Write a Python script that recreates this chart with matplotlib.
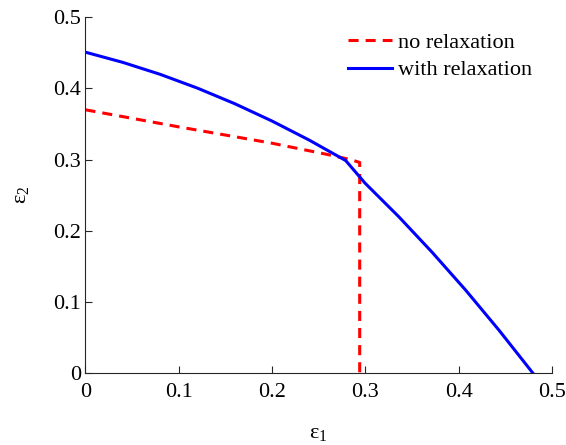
import matplotlib
matplotlib.use('Agg')
import matplotlib.pyplot as plt

# data
no_relax_x = [0.0, 0.1, 0.2, 0.26, 0.284, 0.294, 0.294]
no_relax_y = [0.370, 0.346, 0.323, 0.307, 0.300, 0.296, 0.0]
relax_x = [0.0, 0.04, 0.08, 0.12, 0.16, 0.2, 0.24, 0.279, 0.2997, 0.3357, 0.3716, 0.4076, 0.4435, 0.4795]
relax_y = [0.451, 0.4367, 0.4199, 0.4005, 0.3786, 0.3542, 0.3273, 0.2986, 0.2669, 0.2199, 0.1697, 0.1164, 0.0598, 0.0]
xticks = [0, 0.1, 0.2, 0.3, 0.4, 0.5]
yticks = [0, 0.1, 0.2, 0.3, 0.4, 0.5]
tick_labels = ['0', '0.1', '0.2', '0.3', '0.4', '0.5']

plt.rcParams['font.family'] = ['Liberation Serif', 'DejaVu Serif']
plt.rcParams['mathtext.default'] = 'regular'
plt.rcParams['font.size'] = 16

fig = plt.figure(figsize=(5.66, 4.45), dpi=100)
ax = fig.add_axes([0.151, 0.162, 0.824, 0.799])

ax.plot(no_relax_x, no_relax_y, color='#ff0000', lw=2.2, linestyle=(0, (3.3, 2.3)), label='no relaxation')
ax.plot(relax_x, relax_y, color='#0000ff', lw=2.2, label='with relaxation')

ax.set_xlim(0, 0.5)
ax.set_ylim(0, 0.5)
ax.set_xticks(xticks)
ax.set_xticklabels(tick_labels)
ax.set_yticks(yticks)
ax.set_yticklabels(tick_labels)
ax.tick_params(direction='in', length=5, width=0.8, color='#262626')
ax.tick_params(axis='x', pad=7)
ax.tick_params(axis='y', pad=3)
ax.spines['top'].set_visible(False)
ax.spines['right'].set_visible(False)
for s in ['left', 'bottom']:
    ax.spines[s].set_color('#262626')
    ax.spines[s].set_linewidth(0.8)

ax.set_xlabel('$ε_1$', labelpad=16)
ax.set_ylabel('$ε_2$', labelpad=16)

ax.legend(loc='upper left', bbox_to_anchor=(0.563, 0.957), frameon=False, handlelength=2.0,
          handletextpad=0.25, labelspacing=0.3, borderpad=0, borderaxespad=0)

fig.savefig('out.png', dpi=100)
